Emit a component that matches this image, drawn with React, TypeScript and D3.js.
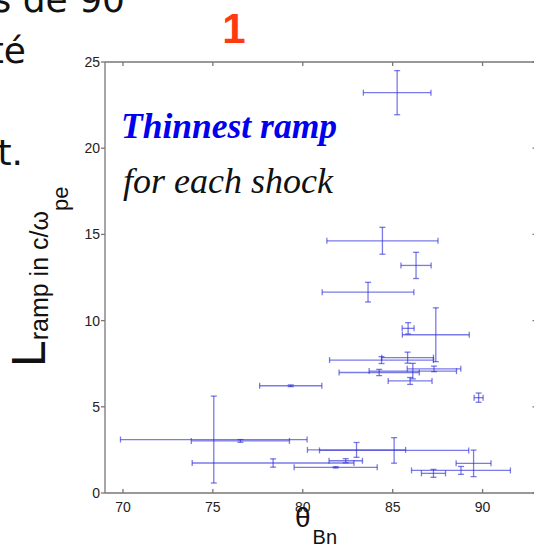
import React from "react";
import * as d3 from "d3";

// Thinnest ramp per shock: theta_Bn (deg) vs L_ramp (c/omega_pe) with error bars
const thetaBn = [85.25, 84.43, 86.3, 83.63, 85.86, 87.4, 84.38, 85.83, 84.25, 86.12, 87.3, 85.97, 79.33, 89.78, 75.05, 76.53, 78.35, 81.83, 82.99, 85.08, 89.5, 88.8, 87.27, 82.39];
const thetaErr = [1.88, 3.09, 0.84, 2.55, 0.33, 1.86, 2.89, 1.44, 2.23, 2.43, 1.49, 1.22, 1.73, 0.25, 5.19, 2.73, 4.5, 2.31, 2.73, 4.15, 0.97, 2.75, 0.67, 0.93];
const lRamp = [23.22, 14.63, 13.2, 11.65, 9.55, 9.18, 7.71, 7.85, 6.99, 7.07, 7.2, 6.5, 6.22, 5.53, 3.1, 3.02, 1.74, 1.49, 2.5, 2.47, 1.72, 1.31, 1.14, 1.87];
const lRampErr = [1.28, 0.78, 0.76, 0.57, 0.33, 1.56, 0.2, 0.32, 0.18, 0.45, 0.16, 0.2, 0.05, 0.27, 2.52, 0.08, 0.24, 0.04, 0.43, 0.74, 0.77, 0.23, 0.23, 0.12];

const xTicks = [70, 75, 80, 85, 90];
const yTicks = [0, 5, 10, 15, 20, 25];
const slideLines = ["s de 90", "té", "", "t."];

export default function App() {
  const W = 534, H = 545;
  const x = d3.scaleLinear().domain([69, 93]).range([105, 536.5]);
  const y = d3.scaleLinear().domain([0, 25]).range([493, 62]);
  const axisColor = "#777";
  const ebColor = "#2a2ad8";
  const cap = 3;
  const sans = "'Liberation Sans', Arial, sans-serif";
  const serif = "'Liberation Serif', 'Times New Roman', serif";
  const slideFont = "'DejaVu Sans', Verdana, sans-serif";
  const x0 = x.range()[0], x1 = x.range()[1], y0 = y.range()[0], y1 = y.range()[1];

  return (
    <svg width={W} height={H} style={{ position: "absolute", left: 0, top: 0, background: "#fff" }}>
      {/* slide text fragments */}
      {slideLines.map((t, i) => (
        <text key={i} x={[125, 26, 0, 23][i]} y={12 + i * 51} textAnchor="end" fontFamily={slideFont} fontSize={36} fill="#111">{t}</text>
      ))}
      <text x={234} y={43} textAnchor="middle" fontFamily={sans} fontWeight="bold" fontSize={42} fill="#ff3a10">1</text>

      {/* axes box */}
      <g stroke={axisColor} strokeWidth={1.3} fill="none">
        <line x1={x0} y1={y0} x2={x1} y2={y0} />
        <line x1={x0} y1={y1} x2={x1} y2={y1} />
        <line x1={x0} y1={y0} x2={x0} y2={y1} />
        <line x1={x1} y1={y0} x2={x1} y2={y1} />
        {xTicks.map(t => (
          <g key={"xt" + t}>
            <line x1={x(t)} x2={x(t)} y1={y0} y2={y0 - 4} />
            <line x1={x(t)} x2={x(t)} y1={y1} y2={y1 + 4} />
          </g>
        ))}
        {yTicks.map(t => (
          <g key={"yt" + t}>
            <line x1={x0 - 4} x2={x0} y1={y(t)} y2={y(t)} />
            <line x1={x1 - 4} x2={x1} y1={y(t)} y2={y(t)} />
          </g>
        ))}
      </g>
      {xTicks.map(t => (
        <text key={"xl" + t} x={x(t)} y={512} textAnchor="middle" fontFamily={sans} fontSize={14} fill="#222">{t}</text>
      ))}
      {yTicks.map(t => (
        <text key={"yl" + t} x={100} y={y(t) + 5} textAnchor="end" fontFamily={sans} fontSize={14} fill="#222">{t}</text>
      ))}

      {/* error bars */}
      <g stroke={ebColor} strokeWidth={1.3} strokeOpacity={0.62} fill="none">
        {thetaBn.map((tv, i) => {
          const cx = x(tv), cy = y(lRamp[i]);
          const xl = x(tv - thetaErr[i]), xr = x(tv + thetaErr[i]);
          const yt = y(lRamp[i] + lRampErr[i]), yb = y(lRamp[i] - lRampErr[i]);
          return (
            <g key={"eb" + i}>
              <line x1={xl} x2={xr} y1={cy} y2={cy} />
              <line x1={xl} x2={xl} y1={cy - cap} y2={cy + cap} />
              <line x1={xr} x2={xr} y1={cy - cap} y2={cy + cap} />
              <line x1={cx} x2={cx} y1={yt} y2={yb} />
              <line x1={cx - cap} x2={cx + cap} y1={yt} y2={yt} />
              <line x1={cx - cap} x2={cx + cap} y1={yb} y2={yb} />
            </g>
          );
        })}
      </g>

      {/* annotations */}
      <text x={121} y={138} fontFamily={serif} fontStyle="italic" fontWeight="bold" fontSize={35.5} fill="#0000ee">Thinnest ramp</text>
      <text x={123} y={193} fontFamily={serif} fontStyle="italic" fontSize={36} fill="#111">for each shock</text>

      {/* y label */}
      <g transform="translate(45,367) rotate(-90)">
        <text x={0} y={0} fontFamily={sans} fontSize={48} fill="#111">
          <tspan>L</tspan>
          <tspan fontSize={25} dy={3}>ramp in c/ω</tspan>
          <tspan fontSize={22} dy={20}>pe</tspan>
        </text>
      </g>

      {/* x label */}
      <text x={295} y={527} fontFamily={sans} fontSize={28} fill="#111">
        θ<tspan fontSize={20} dx={2} dy={17}>Bn</tspan>
      </text>
    </svg>
  );
}
